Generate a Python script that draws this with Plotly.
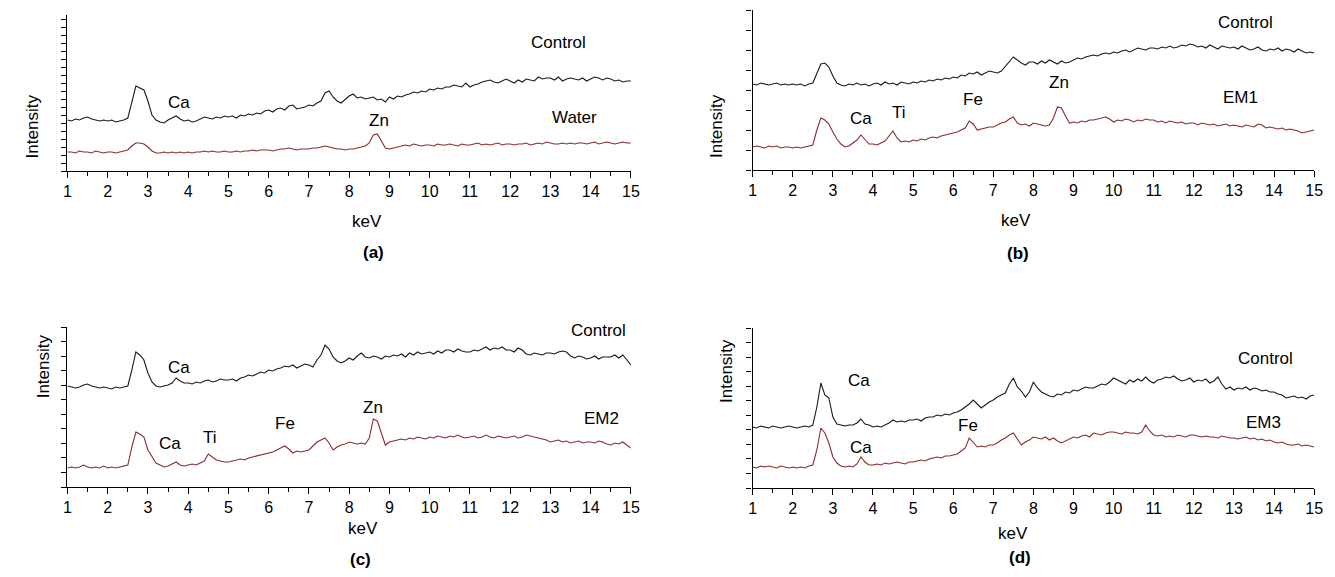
import plotly.graph_objects as go

# ---------------- data (intensity in arbitrary units) ----------------
energy_kev = [round(1 + 0.1 * i, 1) for i in range(141)]

a_control = [51,50,52,51,53,54,52,51,50,51,
             50,51,49,50,51,53,68,85,83,81,
             70,56,51,49,48,51,53,55,52,50,
             51,49,50,52,54,53,52,54,53,55,
             54,55,53,56,55,57,56,58,57,60,
             61,59,62,63,61,65,66,62,63,64,
             66,65,68,70,78,80,74,70,68,72,
             75,77,73,74,72,73,74,71,72,69,
             74,72,75,74,76,77,79,78,80,79,
             82,81,83,82,84,84,86,85,84,88,
             84,86,87,89,90,91,89,88,90,92,
             90,88,91,89,92,91,90,94,92,93,
             93,91,94,90,92,93,92,91,93,90,
             92,94,93,91,93,92,90,91,89,90,
             90]
a_water = [19,19,18,20,19,19,18,20,19,18,
           19,19,18,19,20,21,25,28,28,27,
           24,20,18,18,19,18,19,18,19,18,
           19,18,19,19,20,19,20,19,19,20,
           19,19,20,19,20,20,21,20,21,21,
           21,20,21,22,22,23,22,21,22,22,
           22,23,23,24,25,24,23,22,22,21,
           22,22,23,24,25,28,36,37,30,23,
           22,23,24,25,26,25,27,26,25,26,
           26,25,27,26,26,27,26,25,27,26,
           26,27,28,26,27,26,27,28,26,27,
           27,26,27,27,28,26,27,28,27,29,
           28,27,27,28,27,28,27,28,28,27,
           28,29,27,28,29,28,27,28,29,28,
           28]

b_control = [86,85,87,86,85,86,87,85,86,85,
             86,85,86,84,86,87,97,106,107,103,
             94,87,85,84,86,85,87,85,86,84,
             86,87,85,88,86,87,85,88,87,86,
             88,87,89,88,90,89,91,90,92,91,
             93,92,95,94,97,96,98,95,97,99,
             98,97,99,104,108,113,110,107,105,108,
             108,106,109,107,110,108,106,109,107,108,
             110,112,111,113,114,115,114,116,117,116,
             118,117,119,120,118,120,122,121,120,122,
             122,121,123,122,124,122,123,125,124,126,
             125,123,124,122,125,123,121,124,123,122,
             123,121,124,122,120,121,123,120,119,121,
             120,122,119,121,120,118,121,119,117,118,
             117]
b_em1 = [23,24,23,22,24,23,24,22,23,23,
         22,23,22,23,24,25,40,52,50,46,
         38,31,26,23,24,27,30,35,30,26,
         26,25,27,29,34,39,32,28,29,28,
         30,29,31,30,32,33,32,34,35,36,
         37,38,40,42,49,46,40,41,42,43,
         43,45,47,48,51,53,47,45,46,44,
         47,46,45,44,45,52,63,62,54,47,
         48,47,49,48,50,50,51,52,53,51,
         48,50,49,51,50,48,50,49,51,50,
         50,48,49,47,49,48,47,48,46,47,
         47,45,47,46,45,46,44,45,46,44,
         45,44,43,45,44,43,46,45,42,43,
         42,41,42,40,41,40,39,37,38,39,
         40]

c_control = [101,100,99,100,102,103,101,100,99,100,
             99,98,100,99,100,101,117,135,132,127,
             114,105,101,100,101,102,104,109,106,104,
             104,103,105,104,106,107,105,106,108,107,
             107,108,106,109,110,112,111,113,115,114,
             117,116,118,119,121,120,122,119,121,123,
             122,120,127,132,142,138,130,126,124,126,
             129,127,131,134,130,129,131,130,128,131,
             130,132,131,133,130,134,132,135,133,134,
             135,133,136,134,137,137,135,138,136,135,
             135,137,136,138,140,137,139,138,140,137,
             137,135,139,137,133,132,134,133,132,134,
             134,133,135,136,135,131,129,131,130,128,
             129,131,128,130,130,130,132,129,132,127,
             122]
c_em2 = [19,20,19,20,22,20,19,20,19,21,
         19,20,19,20,21,22,40,55,53,50,
         37,30,24,22,20,21,23,25,22,21,
         22,23,22,24,26,33,30,27,26,25,
         25,26,27,28,27,29,30,31,32,33,
         34,35,37,39,41,38,34,36,35,36,
         37,41,45,47,49,44,37,40,42,43,
         45,44,43,44,43,49,68,66,54,42,
         45,46,47,48,47,49,48,50,49,48,
         50,49,51,50,49,51,50,52,50,49,
         50,51,49,50,52,50,49,51,50,49,
         50,51,49,50,52,51,50,49,48,47,
         45,46,47,45,46,44,45,46,44,45,
         45,44,46,45,43,42,44,43,45,42,
         39]

d_control = [61,60,62,61,60,62,61,60,61,62,
             61,60,61,62,61,63,81,105,93,90,
             71,64,63,62,63,63,65,69,64,63,
             61,62,61,63,65,68,66,67,66,68,
             68,69,67,70,71,71,73,72,74,73,
             75,76,78,81,84,88,84,80,83,86,
             88,91,93,95,104,110,101,97,91,96,
             106,100,96,94,92,91,94,93,96,95,
             98,97,99,101,100,100,102,104,103,106,
             110,108,106,104,108,106,109,107,111,107,
             105,108,109,111,110,112,109,107,108,110,
             106,108,107,109,105,107,111,104,99,101,
             98,100,99,101,98,100,99,97,98,96,
             96,94,93,90,91,92,90,91,89,92,
             93]
d_em3 = [21,20,22,21,22,21,20,22,21,20,
         21,20,21,20,22,23,38,60,55,45,
         31,25,22,21,22,21,24,31,26,23,
         23,24,23,25,24,25,26,25,24,26,
         26,27,28,27,29,30,31,30,32,32,
         33,34,37,40,50,45,41,42,41,43,
         43,45,48,50,53,55,49,43,46,48,
         51,50,49,51,48,50,47,45,47,49,
         51,50,52,53,51,55,54,53,55,56,
         56,55,54,56,55,55,54,56,63,57,
         53,52,53,51,52,51,53,52,51,53,
         53,52,51,52,51,51,50,52,51,50,
         50,49,50,51,49,50,48,49,47,48,
         46,45,46,44,43,43,44,42,43,42,
         41]

panel_ids = ["(a)", "(b)", "(c)", "(d)"]
control_series = [a_control, b_control, c_control, d_control]
sample_series = [a_water, b_em1, c_em2, d_em3]
sample_names = ["Water", "EM1", "EM2", "EM3"]

# label text, keV position, intensity position  (per panel)
peak_labels = [
    [("Control", 13.2, 129), ("Ca", 3.76, 69), ("Water", 13.6, 54), ("Zn", 8.75, 51)],
    [("Control", 13.28, 147), ("Zn", 8.63, 87), ("Fe", 6.49, 70), ("Ti", 4.64, 57),
     ("Ca", 3.70, 51), ("EM1", 13.17, 72)],
    [("Control", 14.2, 157), ("Ca", 3.76, 120), ("EM2", 14.27, 69), ("Zn", 8.58, 80),
     ("Fe", 6.40, 64), ("Ti", 4.54, 50), ("Ca", 3.56, 44)],
    [("Control", 13.80, 130), ("Ca", 3.66, 108), ("EM3", 13.75, 66), ("Fe", 6.38, 63),
     ("Ca", 3.69, 41)],
]

# ---------------- layout geometry (page pixels; page body has an 8px margin) ----------------
OFF = 8
W, H = 1335 - OFF, 577 - OFF
x_px = [(64, 633), (756, 1323), (64, 633), (756, 1323)]
y_px = [(15, 171), (10, 170), (327, 487), (328, 488)]
y_range = [156, 160, 160, 160]
y_dtick = [8, 20, 160 / 11, 160 / 11]
kev_pos = [(349, 222), (1039, 220), (345, 540), (1036, 545)]
tag_pos = [(360, 252), (1037, 253), (347, 571), (1039, 569)]
intens_pos = [(17, 92), (719, 92), (28, 400), (729, 405)]


def fx(p):
    return (p - OFF) / W


def fy(p):
    return 1 - (p - OFF) / H


FONT = "Liberation Sans, Arial, sans-serif"
fig = go.Figure()
annotations = []

for i in range(4):
    k = "" if i == 0 else str(i + 1)
    xa, ya = "x" + k, "y" + k
    fig.add_trace(go.Scatter(x=energy_kev, y=control_series[i], mode="lines",
                             line=dict(color="#1a1a1a", width=1.1), name="Control",
                             xaxis=xa, yaxis=ya, showlegend=False))
    fig.add_trace(go.Scatter(x=energy_kev, y=sample_series[i], mode="lines",
                             line=dict(color="#8a2c2c", width=1.1), name=sample_names[i],
                             xaxis=xa, yaxis=ya, showlegend=False))
    x0, x1 = x_px[i]
    yt, yb = y_px[i]
    fig.layout["xaxis" + k] = dict(
        domain=[fx(x0), fx(x1)], anchor=ya, range=[1, 15], tick0=1, dtick=1,
        ticks="outside", ticklen=6, tickwidth=1.3, tickcolor="black",
        minor=dict(dtick=0.5, ticks="outside", ticklen=4, tickwidth=1.2, tickcolor="black"),
        showline=True, linecolor="black", linewidth=1.4, showgrid=False, zeroline=False,
        tickfont=dict(family=FONT, size=16, color="black"), fixedrange=True)
    fig.layout["yaxis" + k] = dict(
        domain=[fy(yb), fy(yt)], anchor=xa, range=[0, y_range[i]],
        tick0=0, dtick=y_dtick[i], ticks="outside", ticklen=5, tickwidth=1.2,
        tickcolor="black", showticklabels=False, showline=True, linecolor="black",
        linewidth=1.4, showgrid=False, zeroline=False, fixedrange=True)
    for txt, xv, yv in peak_labels[i]:
        annotations.append(dict(text=txt, x=xv, y=yv, xref=xa, yref=ya,
                                showarrow=False, font=dict(family=FONT, size=17, color="black")))
    annotations.append(dict(text="keV", x=fx(kev_pos[i][0]), y=fy(kev_pos[i][1]),
                            xref="paper", yref="paper", showarrow=False,
                            font=dict(family=FONT, size=17, color="black")))
    annotations.append(dict(text="<b>" + panel_ids[i] + "</b>", x=fx(tag_pos[i][0]),
                            y=fy(tag_pos[i][1]), xref="paper", yref="paper",
                            showarrow=False, font=dict(family=FONT, size=17, color="black")))
    annotations.append(dict(text="Intensity", x=fx(intens_pos[i][0]), y=fy(intens_pos[i][1]),
                            xref="paper", yref="paper", showarrow=False, textangle=-90,
                            font=dict(family=FONT, size=17, color="black")))

fig.update_layout(width=W, height=H, margin=dict(l=0, r=0, t=0, b=0),
                  paper_bgcolor="white", plot_bgcolor="white",
                  annotations=annotations, showlegend=False)

fig.write_html("out.html")
